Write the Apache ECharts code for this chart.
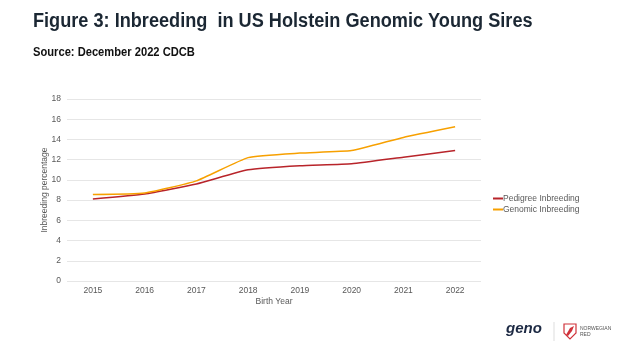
<!DOCTYPE html>
<html lang="en">
<head>
  <meta charset="UTF-8">
  <title>Figure 3: Inbreeding in US Holstein Genomic Young Sires</title>
  <script src="https://cdn.jsdelivr.net/npm/echarts@6/dist/echarts.min.js"></script>
  <style>
    html, body { margin: 0; padding: 0; background: #fff; }
    #chart { width: 624px; height: 351px; }
  </style>
</head>
<body>
  <div id="chart"></div>
  <script>
    const years = ['2015', '2016', '2017', '2018', '2019', '2020', '2021', '2022'];
    const pedigree = [8.1, 8.6, 9.6, 11.0, 11.4, 11.6, 12.25, 12.9];
    const genomic = [8.55, 8.7, 9.9, 12.2, 12.65, 12.9, 14.2, 15.25];

    const myChart = echarts.init(document.getElementById('chart'));

    const grey = '#595959';
    const font = 'Liberation Sans';

    const option = {
      backgroundColor: '#fff',
      animation: false,
      grid: { left: 67, right: 143, top: 99, bottom: 70 },
      legend: {
        orient: 'vertical',
        left: 488, top: 189,
        itemWidth: 10, itemHeight: 2, itemGap: 2,
        icon: 'rect',
        textStyle: { fontFamily: font, fontSize: 8.5, color: grey, padding: [0, 0, 0, -5] },
        data: ['Pedigree Inbreeding', 'Genomic Inbreeding']
      },
      xAxis: {
        type: 'category',
        data: years,
        name: 'Birth Year',
        nameLocation: 'middle',
        nameGap: 16,
        nameMoveOverlap: false,
        nameTextStyle: { fontFamily: font, fontSize: 8.5, color: grey },
        axisLine: { show: false },
        axisTick: { show: false },
        axisLabel: { fontFamily: font, fontSize: 8.5, color: grey, margin: 5 }
      },
      yAxis: {
        type: 'value',
        min: 0, max: 18, interval: 2,
        name: 'Inbreeding percentage',
        nameLocation: 'middle',
        nameGap: 18,
        nameMoveOverlap: false,
        nameRotate: 90,
        nameTextStyle: { fontFamily: font, fontSize: 8.5, color: grey },
        axisLabel: { fontFamily: font, fontSize: 8.5, color: grey, margin: 6 },
        splitLine: { lineStyle: { color: '#e6e6e6', width: 1 } }
      },
      series: [
        {
          name: 'Pedigree Inbreeding', type: 'line', data: pedigree,
          symbol: 'none', smooth: 0.15,
          lineStyle: { color: '#b8242a', width: 1.5 }, itemStyle: { color: '#b8242a' }
        },
        {
          name: 'Genomic Inbreeding', type: 'line', data: genomic,
          symbol: 'none', smooth: 0.15,
          lineStyle: { color: '#f7a000', width: 1.5 }, itemStyle: { color: '#f7a000' }
        }
      ],
      graphic: [
        // title and source, slightly condensed like the original
        {
          type: 'text', x: 33, y: 11, scaleX: 0.907,
          style: { text: 'Figure 3: Inbreeding  in US Holstein Genomic Young Sires', font: 'bold 20px Liberation Sans', fill: '#1b2733' }
        },
        {
          type: 'text', x: 33, y: 47, scaleX: 0.93,
          style: { text: 'Source: December 2022 CDCB', font: 'bold 12px Liberation Sans', fill: '#111' }
        },
        // logos at the bottom right
        {
          type: 'text', x: 506, y: 321,
          style: { text: 'geno', font: 'italic bold 15px Liberation Sans', fill: '#1d2a44' }
        },
        {
          type: 'line', shape: { x1: 554, y1: 322, x2: 554, y2: 341 },
          style: { stroke: '#dddddd', lineWidth: 1 }
        },
        {
          type: 'polygon',
          shape: { points: [[564, 324], [576, 324], [576, 333], [570, 339], [564, 333]] },
          style: { fill: '#fff', stroke: '#d0323a', lineWidth: 1.2 }
        },
        {
          type: 'polygon',
          shape: { points: [[566, 335], [570, 328], [574, 326], [572, 331], [568, 336]] },
          style: { fill: '#d0323a' }
        },
        {
          type: 'text', x: 580, y: 326,
          style: { text: 'NORWEGIAN\nRED', font: '5px Liberation Sans', fill: '#555', lineHeight: 6 }
        }
      ]
    };

    myChart.setOption(option);
  </script>
</body>
</html>
